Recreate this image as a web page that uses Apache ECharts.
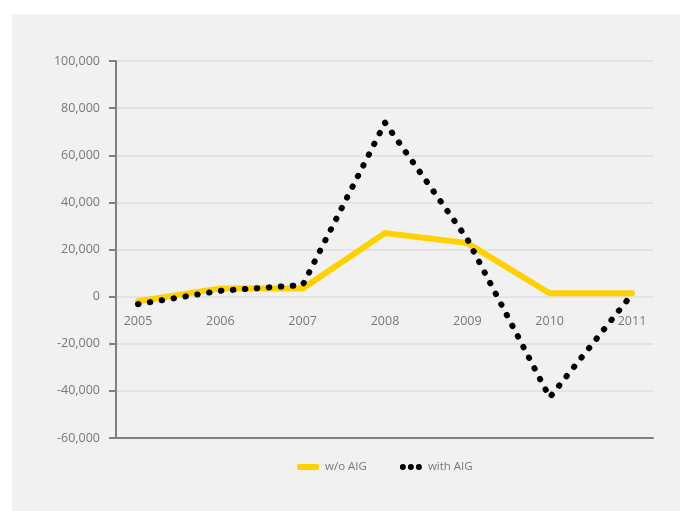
<!DOCTYPE html>
<html><head><meta charset="utf-8">
<script src="https://cdn.jsdelivr.net/npm/echarts@6/dist/echarts.min.js"></script>
<style>html,body{margin:0;padding:0;background:#fff}#c{width:680px;height:511px}</style>
</head><body><div id="c"></div>
<script>
var years = ['2005','2006','2007','2008','2009','2010','2011'];
var withoutAIG = [-2000, 3500, 3500, 27000, 22700, 1400, 1400];
var withAIG = [-3200, 2500, 4900, 73800, 24400, -42800, 1000];
var yMin = -60000, yMax = 100000, yStep = 20000;

var chart = echarts.init(document.getElementById('c'));
var txt = '#777777';
chart.setOption({
  backgroundColor: '#ffffff',
  animation: false,
  graphic: [{type:'rect', left:12, top:14, shape:{width:668, height:497}, style:{fill:'#f1f1f1'}, z:-10}],
  grid: [
    {left:116, right:27, top:61, bottom:73},
    {left:138, right:48, top:61, bottom:73}
  ],
  xAxis: [
    {gridIndex:0, type:'category', data:years, boundaryGap:false,
     axisLine:{onZero:false, lineStyle:{color:'#808080', width:2}},
     axisTick:{show:false}, axisLabel:{show:false}, splitLine:{show:false}},
    {gridIndex:1, type:'category', data:years, boundaryGap:false, position:'bottom', offset:-141.5,
     axisLine:{show:false, onZero:false}, axisTick:{show:false},
     axisLabel:{color:txt, fontSize:12.5, fontFamily:'Open Sans', margin:18},
     splitLine:{show:false}}
  ],
  yAxis: [
    {gridIndex:0, type:'value', min:yMin, max:yMax, interval:yStep,
     axisLine:{show:true, lineStyle:{color:'#808080', width:2}},
     axisTick:{show:true, length:7, lineStyle:{color:'#808080', width:2}},
     axisLabel:{color:txt, fontSize:12.5, fontFamily:'Open Sans', margin:16,
       formatter:function(v){return v.toLocaleString('en-US');}},
     splitLine:{show:true, lineStyle:{color:'#e3e3e3', width:2}}},
    {gridIndex:1, type:'value', min:yMin, max:yMax, interval:yStep, show:false}
  ],
  legend: {
    bottom: 33, left: 292, itemGap: 33, itemWidth: 22, itemHeight: 6,
    textStyle:{color:txt, fontSize:11.5, fontFamily:'Open Sans', padding:[0,0,0,1]},
    data: [
      {name:'w/o AIG', icon:'roundRect'},
      {name:'with AIG', icon:'path://M3,0A3,3,0,1,1,3,6A3,3,0,1,1,3,0ZM11,0A3,3,0,1,1,11,6A3,3,0,1,1,11,0ZM19,0A3,3,0,1,1,19,6A3,3,0,1,1,19,0Z'}
    ]
  },
  series: [
    {name:'w/o AIG', type:'line', xAxisIndex:1, yAxisIndex:1, data:withoutAIG,
     showSymbol:false, symbol:'none', itemStyle:{color:'#ffd100'},
     lineStyle:{color:'#ffd100', width:6, cap:'round', join:'miter'}},
    {name:'with AIG', type:'line', xAxisIndex:1, yAxisIndex:1, data:withAIG,
     showSymbol:false, symbol:'none', itemStyle:{color:'#000000'},
     lineStyle:{color:'#000000', width:6, type:[0.5, 11.5], cap:'round'}}
  ]
});
</script></body></html>
